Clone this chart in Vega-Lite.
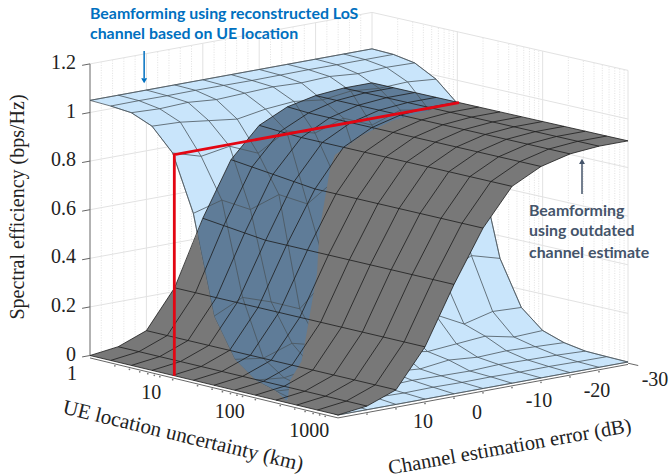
{"$schema":"https://vega.github.io/schema/vega-lite/v6.json","width":670,"height":476,"padding":0,"autosize":"none","background":"white","config":{"view":{"stroke":null}},
"data":{"values":[
{"s":"b","logUE":0,"err":20,"se":1.05},{"s":"b","logUE":0,"err":15,"se":1.05},{"s":"b","logUE":0,"err":10,"se":1.05},{"s":"b","logUE":0,"err":5,"se":1.05},{"s":"b","logUE":0,"err":0,"se":1.05},{"s":"b","logUE":0,"err":-5,"se":1.05},{"s":"b","logUE":0,"err":-10,"se":1.05},{"s":"b","logUE":0,"err":-15,"se":1.05},{"s":"b","logUE":0,"err":-20,"se":1.05},{"s":"b","logUE":0,"err":-25,"se":1.05},{"s":"b","logUE":0,"err":-30,"se":1.05},
{"s":"b","logUE":0.25,"err":20,"se":1.047},{"s":"b","logUE":0.25,"err":15,"se":1.048},{"s":"b","logUE":0.25,"err":10,"se":1.047},{"s":"b","logUE":0.25,"err":5,"se":1.048},{"s":"b","logUE":0.25,"err":0,"se":1.047},{"s":"b","logUE":0.25,"err":-5,"se":1.046},{"s":"b","logUE":0.25,"err":-10,"se":1.047},{"s":"b","logUE":0.25,"err":-15,"se":1.048},{"s":"b","logUE":0.25,"err":-20,"se":1.047},{"s":"b","logUE":0.25,"err":-25,"se":1.047},{"s":"b","logUE":0.25,"err":-30,"se":1.047},
{"s":"b","logUE":0.5,"err":20,"se":1.04},{"s":"b","logUE":0.5,"err":15,"se":1.035},{"s":"b","logUE":0.5,"err":10,"se":1.04},{"s":"b","logUE":0.5,"err":5,"se":1.03},{"s":"b","logUE":0.5,"err":0,"se":1.035},{"s":"b","logUE":0.5,"err":-5,"se":1.04},{"s":"b","logUE":0.5,"err":-10,"se":1.035},{"s":"b","logUE":0.5,"err":-15,"se":1.04},{"s":"b","logUE":0.5,"err":-20,"se":1.03},{"s":"b","logUE":0.5,"err":-25,"se":1.035},{"s":"b","logUE":0.5,"err":-30,"se":1.032},
{"s":"b","logUE":0.75,"err":20,"se":1.005},{"s":"b","logUE":0.75,"err":15,"se":1.0},{"s":"b","logUE":0.75,"err":10,"se":0.985},{"s":"b","logUE":0.75,"err":5,"se":0.97},{"s":"b","logUE":0.75,"err":0,"se":0.99},{"s":"b","logUE":0.75,"err":-5,"se":1.0},{"s":"b","logUE":0.75,"err":-10,"se":0.985},{"s":"b","logUE":0.75,"err":-15,"se":1.0},{"s":"b","logUE":0.75,"err":-20,"se":0.99},{"s":"b","logUE":0.75,"err":-25,"se":0.995},{"s":"b","logUE":0.75,"err":-30,"se":0.985},
{"s":"b","logUE":1,"err":20,"se":0.915},{"s":"b","logUE":1,"err":15,"se":0.88},{"s":"b","logUE":1,"err":10,"se":0.9},{"s":"b","logUE":1,"err":5,"se":0.85},{"s":"b","logUE":1,"err":0,"se":0.92},{"s":"b","logUE":1,"err":-5,"se":0.89},{"s":"b","logUE":1,"err":-10,"se":0.93},{"s":"b","logUE":1,"err":-15,"se":0.88},{"s":"b","logUE":1,"err":-20,"se":0.92},{"s":"b","logUE":1,"err":-25,"se":0.9},{"s":"b","logUE":1,"err":-30,"se":0.905},
{"s":"b","logUE":1.25,"err":20,"se":0.687},{"s":"b","logUE":1.25,"err":15,"se":0.72},{"s":"b","logUE":1.25,"err":10,"se":0.66},{"s":"b","logUE":1.25,"err":5,"se":0.7},{"s":"b","logUE":1.25,"err":0,"se":0.64},{"s":"b","logUE":1.25,"err":-5,"se":0.72},{"s":"b","logUE":1.25,"err":-10,"se":0.68},{"s":"b","logUE":1.25,"err":-15,"se":0.66},{"s":"b","logUE":1.25,"err":-20,"se":0.71},{"s":"b","logUE":1.25,"err":-25,"se":0.65},{"s":"b","logUE":1.25,"err":-30,"se":0.68},
{"s":"b","logUE":1.5,"err":20,"se":0.284},{"s":"b","logUE":1.5,"err":15,"se":0.34},{"s":"b","logUE":1.5,"err":10,"se":0.3},{"s":"b","logUE":1.5,"err":5,"se":0.25},{"s":"b","logUE":1.5,"err":0,"se":0.36},{"s":"b","logUE":1.5,"err":-5,"se":0.31},{"s":"b","logUE":1.5,"err":-10,"se":0.27},{"s":"b","logUE":1.5,"err":-15,"se":0.33},{"s":"b","logUE":1.5,"err":-20,"se":0.28},{"s":"b","logUE":1.5,"err":-25,"se":0.34},{"s":"b","logUE":1.5,"err":-30,"se":0.307},
{"s":"b","logUE":1.75,"err":20,"se":0.127},{"s":"b","logUE":1.75,"err":15,"se":0.11},{"s":"b","logUE":1.75,"err":10,"se":0.15},{"s":"b","logUE":1.75,"err":5,"se":0.12},{"s":"b","logUE":1.75,"err":0,"se":0.09},{"s":"b","logUE":1.75,"err":-5,"se":0.14},{"s":"b","logUE":1.75,"err":-10,"se":0.11},{"s":"b","logUE":1.75,"err":-15,"se":0.16},{"s":"b","logUE":1.75,"err":-20,"se":0.1},{"s":"b","logUE":1.75,"err":-25,"se":0.13},{"s":"b","logUE":1.75,"err":-30,"se":0.125},
{"s":"b","logUE":2,"err":20,"se":0.062},{"s":"b","logUE":2,"err":15,"se":0.05},{"s":"b","logUE":2,"err":10,"se":0.07},{"s":"b","logUE":2,"err":5,"se":0.055},{"s":"b","logUE":2,"err":0,"se":0.045},{"s":"b","logUE":2,"err":-5,"se":0.07},{"s":"b","logUE":2,"err":-10,"se":0.05},{"s":"b","logUE":2,"err":-15,"se":0.06},{"s":"b","logUE":2,"err":-20,"se":0.07},{"s":"b","logUE":2,"err":-25,"se":0.045},{"s":"b","logUE":2,"err":-30,"se":0.05},
{"s":"b","logUE":2.25,"err":20,"se":0.037},{"s":"b","logUE":2.25,"err":15,"se":0.03},{"s":"b","logUE":2.25,"err":10,"se":0.025},{"s":"b","logUE":2.25,"err":5,"se":0.035},{"s":"b","logUE":2.25,"err":0,"se":0.03},{"s":"b","logUE":2.25,"err":-5,"se":0.02},{"s":"b","logUE":2.25,"err":-10,"se":0.035},{"s":"b","logUE":2.25,"err":-15,"se":0.025},{"s":"b","logUE":2.25,"err":-20,"se":0.03},{"s":"b","logUE":2.25,"err":-25,"se":0.025},{"s":"b","logUE":2.25,"err":-30,"se":0.02},
{"s":"b","logUE":2.5,"err":20,"se":0.016},{"s":"b","logUE":2.5,"err":15,"se":0.012},{"s":"b","logUE":2.5,"err":10,"se":0.018},{"s":"b","logUE":2.5,"err":5,"se":0.01},{"s":"b","logUE":2.5,"err":0,"se":0.015},{"s":"b","logUE":2.5,"err":-5,"se":0.012},{"s":"b","logUE":2.5,"err":-10,"se":0.01},{"s":"b","logUE":2.5,"err":-15,"se":0.015},{"s":"b","logUE":2.5,"err":-20,"se":0.012},{"s":"b","logUE":2.5,"err":-25,"se":0.01},{"s":"b","logUE":2.5,"err":-30,"se":0.005},
{"s":"b","logUE":2.75,"err":20,"se":0.012},{"s":"b","logUE":2.75,"err":15,"se":0.006},{"s":"b","logUE":2.75,"err":10,"se":0.008},{"s":"b","logUE":2.75,"err":5,"se":0.005},{"s":"b","logUE":2.75,"err":0,"se":0.007},{"s":"b","logUE":2.75,"err":-5,"se":0.005},{"s":"b","logUE":2.75,"err":-10,"se":0.006},{"s":"b","logUE":2.75,"err":-15,"se":0.004},{"s":"b","logUE":2.75,"err":-20,"se":0.005},{"s":"b","logUE":2.75,"err":-25,"se":0.003},{"s":"b","logUE":2.75,"err":-30,"se":0.002},
{"s":"b","logUE":3,"err":20,"se":0},{"s":"b","logUE":3,"err":15,"se":0},{"s":"b","logUE":3,"err":10,"se":0},{"s":"b","logUE":3,"err":5,"se":0},{"s":"b","logUE":3,"err":0,"se":0},{"s":"b","logUE":3,"err":-5,"se":0},{"s":"b","logUE":3,"err":-10,"se":0},{"s":"b","logUE":3,"err":-15,"se":0},{"s":"b","logUE":3,"err":-20,"se":0},{"s":"b","logUE":3,"err":-25,"se":0},{"s":"b","logUE":3,"err":-30,"se":0},

{"s":"g","logUE":0,"err":20,"se":0},{"s":"g","logUE":0,"err":15,"se":0.015},{"s":"g","logUE":0,"err":10,"se":0.06},{"s":"g","logUE":0,"err":5,"se":0.215},{"s":"g","logUE":0,"err":0,"se":0.48},{"s":"g","logUE":0,"err":-5,"se":0.7},{"s":"g","logUE":0,"err":-10,"se":0.82},{"s":"g","logUE":0,"err":-15,"se":0.875},{"s":"g","logUE":0,"err":-20,"se":0.9},{"s":"g","logUE":0,"err":-25,"se":0.91},{"s":"g","logUE":0,"err":-30,"se":0.91},
{"s":"g","logUE":0.25,"err":20,"se":0},{"s":"g","logUE":0.25,"err":15,"se":0.015},{"s":"g","logUE":0.25,"err":10,"se":0.06},{"s":"g","logUE":0.25,"err":5,"se":0.215},{"s":"g","logUE":0.25,"err":0,"se":0.47},{"s":"g","logUE":0.25,"err":-5,"se":0.69},{"s":"g","logUE":0.25,"err":-10,"se":0.815},{"s":"g","logUE":0.25,"err":-15,"se":0.87},{"s":"g","logUE":0.25,"err":-20,"se":0.9},{"s":"g","logUE":0.25,"err":-25,"se":0.91},{"s":"g","logUE":0.25,"err":-30,"se":0.91},
{"s":"g","logUE":0.5,"err":20,"se":0},{"s":"g","logUE":0.5,"err":15,"se":0.015},{"s":"g","logUE":0.5,"err":10,"se":0.06},{"s":"g","logUE":0.5,"err":5,"se":0.215},{"s":"g","logUE":0.5,"err":0,"se":0.46},{"s":"g","logUE":0.5,"err":-5,"se":0.68},{"s":"g","logUE":0.5,"err":-10,"se":0.81},{"s":"g","logUE":0.5,"err":-15,"se":0.87},{"s":"g","logUE":0.5,"err":-20,"se":0.9},{"s":"g","logUE":0.5,"err":-25,"se":0.91},{"s":"g","logUE":0.5,"err":-30,"se":0.91},
{"s":"g","logUE":0.75,"err":20,"se":0},{"s":"g","logUE":0.75,"err":15,"se":0.015},{"s":"g","logUE":0.75,"err":10,"se":0.06},{"s":"g","logUE":0.75,"err":5,"se":0.215},{"s":"g","logUE":0.75,"err":0,"se":0.45},{"s":"g","logUE":0.75,"err":-5,"se":0.67},{"s":"g","logUE":0.75,"err":-10,"se":0.81},{"s":"g","logUE":0.75,"err":-15,"se":0.87},{"s":"g","logUE":0.75,"err":-20,"se":0.9},{"s":"g","logUE":0.75,"err":-25,"se":0.91},{"s":"g","logUE":0.75,"err":-30,"se":0.91},
{"s":"g","logUE":1,"err":20,"se":0},{"s":"g","logUE":1,"err":15,"se":0.015},{"s":"g","logUE":1,"err":10,"se":0.06},{"s":"g","logUE":1,"err":5,"se":0.215},{"s":"g","logUE":1,"err":0,"se":0.45},{"s":"g","logUE":1,"err":-5,"se":0.66},{"s":"g","logUE":1,"err":-10,"se":0.81},{"s":"g","logUE":1,"err":-15,"se":0.87},{"s":"g","logUE":1,"err":-20,"se":0.9},{"s":"g","logUE":1,"err":-25,"se":0.91},{"s":"g","logUE":1,"err":-30,"se":0.91},
{"s":"g","logUE":1.25,"err":20,"se":0},{"s":"g","logUE":1.25,"err":15,"se":0.015},{"s":"g","logUE":1.25,"err":10,"se":0.06},{"s":"g","logUE":1.25,"err":5,"se":0.215},{"s":"g","logUE":1.25,"err":0,"se":0.45},{"s":"g","logUE":1.25,"err":-5,"se":0.66},{"s":"g","logUE":1.25,"err":-10,"se":0.81},{"s":"g","logUE":1.25,"err":-15,"se":0.87},{"s":"g","logUE":1.25,"err":-20,"se":0.9},{"s":"g","logUE":1.25,"err":-25,"se":0.91},{"s":"g","logUE":1.25,"err":-30,"se":0.91},
{"s":"g","logUE":1.5,"err":20,"se":0},{"s":"g","logUE":1.5,"err":15,"se":0.015},{"s":"g","logUE":1.5,"err":10,"se":0.06},{"s":"g","logUE":1.5,"err":5,"se":0.215},{"s":"g","logUE":1.5,"err":0,"se":0.45},{"s":"g","logUE":1.5,"err":-5,"se":0.66},{"s":"g","logUE":1.5,"err":-10,"se":0.81},{"s":"g","logUE":1.5,"err":-15,"se":0.87},{"s":"g","logUE":1.5,"err":-20,"se":0.9},{"s":"g","logUE":1.5,"err":-25,"se":0.91},{"s":"g","logUE":1.5,"err":-30,"se":0.91},
{"s":"g","logUE":1.75,"err":20,"se":0},{"s":"g","logUE":1.75,"err":15,"se":0.015},{"s":"g","logUE":1.75,"err":10,"se":0.06},{"s":"g","logUE":1.75,"err":5,"se":0.215},{"s":"g","logUE":1.75,"err":0,"se":0.45},{"s":"g","logUE":1.75,"err":-5,"se":0.66},{"s":"g","logUE":1.75,"err":-10,"se":0.81},{"s":"g","logUE":1.75,"err":-15,"se":0.87},{"s":"g","logUE":1.75,"err":-20,"se":0.9},{"s":"g","logUE":1.75,"err":-25,"se":0.91},{"s":"g","logUE":1.75,"err":-30,"se":0.91},
{"s":"g","logUE":2,"err":20,"se":0},{"s":"g","logUE":2,"err":15,"se":0.015},{"s":"g","logUE":2,"err":10,"se":0.06},{"s":"g","logUE":2,"err":5,"se":0.215},{"s":"g","logUE":2,"err":0,"se":0.45},{"s":"g","logUE":2,"err":-5,"se":0.66},{"s":"g","logUE":2,"err":-10,"se":0.81},{"s":"g","logUE":2,"err":-15,"se":0.87},{"s":"g","logUE":2,"err":-20,"se":0.9},{"s":"g","logUE":2,"err":-25,"se":0.91},{"s":"g","logUE":2,"err":-30,"se":0.91},
{"s":"g","logUE":2.25,"err":20,"se":0},{"s":"g","logUE":2.25,"err":15,"se":0.015},{"s":"g","logUE":2.25,"err":10,"se":0.06},{"s":"g","logUE":2.25,"err":5,"se":0.215},{"s":"g","logUE":2.25,"err":0,"se":0.45},{"s":"g","logUE":2.25,"err":-5,"se":0.66},{"s":"g","logUE":2.25,"err":-10,"se":0.81},{"s":"g","logUE":2.25,"err":-15,"se":0.87},{"s":"g","logUE":2.25,"err":-20,"se":0.9},{"s":"g","logUE":2.25,"err":-25,"se":0.91},{"s":"g","logUE":2.25,"err":-30,"se":0.91},
{"s":"g","logUE":2.5,"err":20,"se":0},{"s":"g","logUE":2.5,"err":15,"se":0.015},{"s":"g","logUE":2.5,"err":10,"se":0.06},{"s":"g","logUE":2.5,"err":5,"se":0.215},{"s":"g","logUE":2.5,"err":0,"se":0.45},{"s":"g","logUE":2.5,"err":-5,"se":0.66},{"s":"g","logUE":2.5,"err":-10,"se":0.81},{"s":"g","logUE":2.5,"err":-15,"se":0.87},{"s":"g","logUE":2.5,"err":-20,"se":0.9},{"s":"g","logUE":2.5,"err":-25,"se":0.91},{"s":"g","logUE":2.5,"err":-30,"se":0.91},
{"s":"g","logUE":2.75,"err":20,"se":0},{"s":"g","logUE":2.75,"err":15,"se":0.015},{"s":"g","logUE":2.75,"err":10,"se":0.06},{"s":"g","logUE":2.75,"err":5,"se":0.215},{"s":"g","logUE":2.75,"err":0,"se":0.45},{"s":"g","logUE":2.75,"err":-5,"se":0.66},{"s":"g","logUE":2.75,"err":-10,"se":0.81},{"s":"g","logUE":2.75,"err":-15,"se":0.87},{"s":"g","logUE":2.75,"err":-20,"se":0.9},{"s":"g","logUE":2.75,"err":-25,"se":0.91},{"s":"g","logUE":2.75,"err":-30,"se":0.91},
{"s":"g","logUE":3,"err":20,"se":0},{"s":"g","logUE":3,"err":15,"se":0.015},{"s":"g","logUE":3,"err":10,"se":0.06},{"s":"g","logUE":3,"err":5,"se":0.215},{"s":"g","logUE":3,"err":0,"se":0.45},{"s":"g","logUE":3,"err":-5,"se":0.66},{"s":"g","logUE":3,"err":-10,"se":0.81},{"s":"g","logUE":3,"err":-15,"se":0.87},{"s":"g","logUE":3,"err":-20,"se":0.9},{"s":"g","logUE":3,"err":-25,"se":0.91},{"s":"g","logUE":3,"err":-30,"se":0.91},

{"s":"bo","o":1,"logUE":0,"err":20,"se":1.05},{"s":"bo","o":2,"logUE":0,"err":-30,"se":1.05},{"s":"bo","o":3,"logUE":0.25,"err":-30,"se":1.047},{"s":"bo","o":4,"logUE":0.5,"err":-30,"se":1.032},{"s":"bo","o":5,"logUE":0.75,"err":-30,"se":0.985},{"s":"bo","o":6,"logUE":1,"err":-30,"se":0.905},{"s":"bo","o":7,"logUE":1.25,"err":-30,"se":0.68},{"s":"bo","o":8,"logUE":1.5,"err":-30,"se":0.307},{"s":"bo","o":9,"logUE":1.75,"err":-30,"se":0.125},{"s":"bo","o":10,"logUE":2,"err":-30,"se":0.05},{"s":"bo","o":11,"logUE":2.25,"err":-30,"se":0.02},{"s":"bo","o":12,"logUE":2.5,"err":-30,"se":0.005},{"s":"bo","o":13,"logUE":3,"err":-30,"se":0},{"s":"bo","o":14,"logUE":3,"err":20,"se":0},{"s":"bo","o":15,"logUE":2.75,"err":20,"se":0.012},{"s":"bo","o":16,"logUE":2.5,"err":20,"se":0.016},{"s":"bo","o":17,"logUE":2.25,"err":20,"se":0.037},{"s":"bo","o":18,"logUE":2,"err":20,"se":0.062},{"s":"bo","o":19,"logUE":1.75,"err":20,"se":0.127},{"s":"bo","o":20,"logUE":1.5,"err":20,"se":0.284},{"s":"bo","o":21,"logUE":1.25,"err":20,"se":0.687},{"s":"bo","o":22,"logUE":1,"err":20,"se":0.915},{"s":"bo","o":23,"logUE":0.75,"err":20,"se":1.005},{"s":"bo","o":24,"logUE":0.5,"err":20,"se":1.04},{"s":"bo","o":25,"logUE":0.25,"err":20,"se":1.047},

{"s":"do","o":1,"logUE":1.305,"err":20,"se":0.594},{"s":"do","o":2,"logUE":0,"err":0.85,"se":0.43},{"s":"do","o":3,"logUE":0,"err":0,"se":0.48},{"s":"do","o":4,"logUE":0,"err":-5,"se":0.7},{"s":"do","o":5,"logUE":0,"err":-10,"se":0.82},{"s":"do","o":6,"logUE":0,"err":-15,"se":0.875},{"s":"do","o":7,"logUE":0,"err":-20,"se":0.9},{"s":"do","o":8,"logUE":0,"err":-25,"se":0.91},{"s":"do","o":9,"logUE":0,"err":-30,"se":0.91},{"s":"do","o":10,"logUE":1.008,"err":-30,"se":0.91},{"s":"do","o":11,"logUE":2.37,"err":20,"se":0},{"s":"do","o":12,"logUE":2.25,"err":20,"se":0.037},{"s":"do","o":13,"logUE":2,"err":20,"se":0.062},{"s":"do","o":14,"logUE":1.75,"err":20,"se":0.127},{"s":"do","o":15,"logUE":1.5,"err":20,"se":0.284},

{"s":"gl","o":1,"logUE":0,"err":20,"se":0},{"s":"gl","o":2,"logUE":2.418,"err":20,"se":0},{"s":"gl","o":3,"logUE":2.25,"err":20,"se":0.037},{"s":"gl","o":4,"logUE":2,"err":20,"se":0.062},{"s":"gl","o":5,"logUE":1.75,"err":20,"se":0.127},{"s":"gl","o":6,"logUE":1.5,"err":20,"se":0.284},{"s":"gl","o":7,"logUE":1.305,"err":20,"se":0.594},{"s":"gl","o":8,"logUE":0,"err":0.85,"se":0.43},{"s":"gl","o":9,"logUE":0,"err":5,"se":0.215},{"s":"gl","o":10,"logUE":0,"err":10,"se":0.06},{"s":"gl","o":11,"logUE":0,"err":15,"se":0.015},

{"s":"gr","o":1,"logUE":2.37,"err":20,"se":0},{"s":"gr","o":2,"logUE":3,"err":20,"se":0},{"s":"gr","o":3,"logUE":3,"err":15,"se":0.015},{"s":"gr","o":4,"logUE":3,"err":10,"se":0.06},{"s":"gr","o":5,"logUE":3,"err":5,"se":0.215},{"s":"gr","o":6,"logUE":3,"err":0,"se":0.45},{"s":"gr","o":7,"logUE":3,"err":-5,"se":0.66},{"s":"gr","o":8,"logUE":3,"err":-10,"se":0.81},{"s":"gr","o":9,"logUE":3,"err":-15,"se":0.87},{"s":"gr","o":10,"logUE":3,"err":-20,"se":0.9},{"s":"gr","o":11,"logUE":3,"err":-25,"se":0.91},{"s":"gr","o":12,"logUE":3,"err":-30,"se":0.91},{"s":"gr","o":13,"logUE":1.008,"err":-30,"se":0.91},{"s":"gr","o":14,"logUE":1.035,"err":-18,"se":0.888},{"s":"gr","o":15,"logUE":1.008,"err":-13,"se":0.846},{"s":"gr","o":16,"logUE":0.966,"err":-9,"se":0.78},{"s":"gr","o":17,"logUE":1.011,"err":-7.5,"se":0.735},{"s":"gr","o":18,"logUE":1.263,"err":-2,"se":0.534},{"s":"gr","o":19,"logUE":1.377,"err":0,"se":0.45},{"s":"gr","o":20,"logUE":1.467,"err":1.5,"se":0.38},{"s":"gr","o":21,"logUE":1.671,"err":6.25,"se":0.176},{"s":"gr","o":22,"logUE":1.83,"err":9.5,"se":0.08},{"s":"gr","o":23,"logUE":1.968,"err":13.5,"se":0.03},{"s":"gr","o":24,"logUE":2.289,"err":18.5,"se":0.005},

{"s":"r","o":1,"logUE":1.02,"err":20,"se":0},{"s":"r","o":2,"logUE":1.02,"err":20,"se":0.91},{"s":"r","o":3,"logUE":1.02,"err":-30,"se":0.91},

{"s":"w","id":"z2","o":1,"logUE":0,"err":20,"se":0.2},{"s":"w","id":"z2","o":2,"logUE":0,"err":-30,"se":0.2},{"s":"w","id":"z2","o":3,"logUE":3,"err":-30,"se":0.2},
{"s":"w","id":"z4","o":1,"logUE":0,"err":20,"se":0.4},{"s":"w","id":"z4","o":2,"logUE":0,"err":-30,"se":0.4},{"s":"w","id":"z4","o":3,"logUE":3,"err":-30,"se":0.4},
{"s":"w","id":"z6","o":1,"logUE":0,"err":20,"se":0.6},{"s":"w","id":"z6","o":2,"logUE":0,"err":-30,"se":0.6},{"s":"w","id":"z6","o":3,"logUE":3,"err":-30,"se":0.6},
{"s":"w","id":"z8","o":1,"logUE":0,"err":20,"se":0.8},{"s":"w","id":"z8","o":2,"logUE":0,"err":-30,"se":0.8},{"s":"w","id":"z8","o":3,"logUE":3,"err":-30,"se":0.8},
{"s":"w","id":"z10","o":1,"logUE":0,"err":20,"se":1},{"s":"w","id":"z10","o":2,"logUE":0,"err":-30,"se":1},{"s":"w","id":"z10","o":3,"logUE":3,"err":-30,"se":1},
{"s":"w","id":"z12","o":1,"logUE":0,"err":20,"se":1.2},{"s":"w","id":"z12","o":2,"logUE":0,"err":-30,"se":1.2},{"s":"w","id":"z12","o":3,"logUE":3,"err":-30,"se":1.2},
{"s":"w","id":"e10","o":1,"logUE":0,"err":10,"se":0},{"s":"w","id":"e10","o":2,"logUE":0,"err":10,"se":1.2},
{"s":"w","id":"e0","o":1,"logUE":0,"err":0,"se":0},{"s":"w","id":"e0","o":2,"logUE":0,"err":0,"se":1.2},
{"s":"w","id":"em10","o":1,"logUE":0,"err":-10,"se":0},{"s":"w","id":"em10","o":2,"logUE":0,"err":-10,"se":1.2},
{"s":"w","id":"em20","o":1,"logUE":0,"err":-20,"se":0},{"s":"w","id":"em20","o":2,"logUE":0,"err":-20,"se":1.2},
{"s":"w","id":"em30","o":1,"logUE":0,"err":-30,"se":0},{"s":"w","id":"em30","o":2,"logUE":0,"err":-30,"se":1.2},
{"s":"w","id":"u1","o":1,"logUE":1,"err":-30,"se":0},{"s":"w","id":"u1","o":2,"logUE":1,"err":-30,"se":1.2},
{"s":"w","id":"u2","o":1,"logUE":2,"err":-30,"se":0},{"s":"w","id":"u2","o":2,"logUE":2,"err":-30,"se":1.2},
{"s":"w","id":"u3","o":1,"logUE":3,"err":-30,"se":0},{"s":"w","id":"u3","o":2,"logUE":3,"err":-30,"se":1.2},

{"s":"m","logUE":0.301,"err":-30,"se":0},{"s":"m","logUE":0.301,"err":-30,"se":1.2},{"s":"m","logUE":0.477,"err":-30,"se":0},{"s":"m","logUE":0.477,"err":-30,"se":1.2},{"s":"m","logUE":0.602,"err":-30,"se":0},{"s":"m","logUE":0.602,"err":-30,"se":1.2},{"s":"m","logUE":0.699,"err":-30,"se":0},{"s":"m","logUE":0.699,"err":-30,"se":1.2},{"s":"m","logUE":0.778,"err":-30,"se":0},{"s":"m","logUE":0.778,"err":-30,"se":1.2},{"s":"m","logUE":0.845,"err":-30,"se":0},{"s":"m","logUE":0.845,"err":-30,"se":1.2},{"s":"m","logUE":0.903,"err":-30,"se":0},{"s":"m","logUE":0.903,"err":-30,"se":1.2},{"s":"m","logUE":0.954,"err":-30,"se":0},{"s":"m","logUE":0.954,"err":-30,"se":1.2},
{"s":"m","logUE":1.301,"err":-30,"se":0},{"s":"m","logUE":1.301,"err":-30,"se":1.2},{"s":"m","logUE":1.477,"err":-30,"se":0},{"s":"m","logUE":1.477,"err":-30,"se":1.2},{"s":"m","logUE":1.602,"err":-30,"se":0},{"s":"m","logUE":1.602,"err":-30,"se":1.2},{"s":"m","logUE":1.699,"err":-30,"se":0},{"s":"m","logUE":1.699,"err":-30,"se":1.2},{"s":"m","logUE":1.778,"err":-30,"se":0},{"s":"m","logUE":1.778,"err":-30,"se":1.2},{"s":"m","logUE":1.845,"err":-30,"se":0},{"s":"m","logUE":1.845,"err":-30,"se":1.2},{"s":"m","logUE":1.903,"err":-30,"se":0},{"s":"m","logUE":1.903,"err":-30,"se":1.2},{"s":"m","logUE":1.954,"err":-30,"se":0},{"s":"m","logUE":1.954,"err":-30,"se":1.2},
{"s":"m","logUE":2.301,"err":-30,"se":0},{"s":"m","logUE":2.301,"err":-30,"se":1.2},{"s":"m","logUE":2.477,"err":-30,"se":0},{"s":"m","logUE":2.477,"err":-30,"se":1.2},{"s":"m","logUE":2.602,"err":-30,"se":0},{"s":"m","logUE":2.602,"err":-30,"se":1.2},{"s":"m","logUE":2.699,"err":-30,"se":0},{"s":"m","logUE":2.699,"err":-30,"se":1.2},{"s":"m","logUE":2.778,"err":-30,"se":0},{"s":"m","logUE":2.778,"err":-30,"se":1.2},{"s":"m","logUE":2.845,"err":-30,"se":0},{"s":"m","logUE":2.845,"err":-30,"se":1.2},{"s":"m","logUE":2.903,"err":-30,"se":0},{"s":"m","logUE":2.903,"err":-30,"se":1.2},{"s":"m","logUE":2.954,"err":-30,"se":0},{"s":"m","logUE":2.954,"err":-30,"se":1.2},

{"s":"n","logUE":0,"err":18,"se":0},{"s":"n","logUE":0,"err":18,"se":1.2},{"s":"n","logUE":0,"err":16,"se":0},{"s":"n","logUE":0,"err":16,"se":1.2},{"s":"n","logUE":0,"err":14,"se":0},{"s":"n","logUE":0,"err":14,"se":1.2},{"s":"n","logUE":0,"err":12,"se":0},{"s":"n","logUE":0,"err":12,"se":1.2},
{"s":"n","logUE":0,"err":8,"se":0},{"s":"n","logUE":0,"err":8,"se":1.2},{"s":"n","logUE":0,"err":6,"se":0},{"s":"n","logUE":0,"err":6,"se":1.2},{"s":"n","logUE":0,"err":4,"se":0},{"s":"n","logUE":0,"err":4,"se":1.2},{"s":"n","logUE":0,"err":2,"se":0},{"s":"n","logUE":0,"err":2,"se":1.2},
{"s":"n","logUE":0,"err":-2,"se":0},{"s":"n","logUE":0,"err":-2,"se":1.2},{"s":"n","logUE":0,"err":-4,"se":0},{"s":"n","logUE":0,"err":-4,"se":1.2},{"s":"n","logUE":0,"err":-6,"se":0},{"s":"n","logUE":0,"err":-6,"se":1.2},{"s":"n","logUE":0,"err":-8,"se":0},{"s":"n","logUE":0,"err":-8,"se":1.2},
{"s":"n","logUE":0,"err":-12,"se":0},{"s":"n","logUE":0,"err":-12,"se":1.2},{"s":"n","logUE":0,"err":-14,"se":0},{"s":"n","logUE":0,"err":-14,"se":1.2},{"s":"n","logUE":0,"err":-16,"se":0},{"s":"n","logUE":0,"err":-16,"se":1.2},{"s":"n","logUE":0,"err":-18,"se":0},{"s":"n","logUE":0,"err":-18,"se":1.2},
{"s":"n","logUE":0,"err":-22,"se":0},{"s":"n","logUE":0,"err":-22,"se":1.2},{"s":"n","logUE":0,"err":-24,"se":0},{"s":"n","logUE":0,"err":-24,"se":1.2},{"s":"n","logUE":0,"err":-26,"se":0},{"s":"n","logUE":0,"err":-26,"se":1.2},{"s":"n","logUE":0,"err":-28,"se":0},{"s":"n","logUE":0,"err":-28,"se":1.2},

{"s":"ax","id":"za","o":1,"logUE":0,"err":20,"se":0},{"s":"ax","id":"za","o":2,"logUE":0,"err":20,"se":1.2},
{"s":"ax","id":"fl","o":1,"logUE":0,"err":20,"se":-0.01},{"s":"ax","id":"fl","o":2,"logUE":3,"err":20,"se":-0.012},{"s":"ax","id":"fl","o":3,"logUE":3,"err":-30,"se":-0.01},
{"s":"ax","id":"t0","o":1,"logUE":0,"err":20,"se":0},{"s":"ax","id":"t0","o":2,"logUE":0,"err":21.4,"se":0},
{"s":"ax","id":"t2","o":1,"logUE":0,"err":20,"se":0.2},{"s":"ax","id":"t2","o":2,"logUE":0,"err":21.4,"se":0.2},
{"s":"ax","id":"t4","o":1,"logUE":0,"err":20,"se":0.4},{"s":"ax","id":"t4","o":2,"logUE":0,"err":21.4,"se":0.4},
{"s":"ax","id":"t6","o":1,"logUE":0,"err":20,"se":0.6},{"s":"ax","id":"t6","o":2,"logUE":0,"err":21.4,"se":0.6},
{"s":"ax","id":"t8","o":1,"logUE":0,"err":20,"se":0.8},{"s":"ax","id":"t8","o":2,"logUE":0,"err":21.4,"se":0.8},
{"s":"ax","id":"t10","o":1,"logUE":0,"err":20,"se":1},{"s":"ax","id":"t10","o":2,"logUE":0,"err":21.4,"se":1},
{"s":"ax","id":"t12","o":1,"logUE":0,"err":20,"se":1.2},{"s":"ax","id":"t12","o":2,"logUE":0,"err":21.4,"se":1.2},
{"s":"ax","id":"t30","o":1,"logUE":3,"err":-30,"se":-0.005},{"s":"ax","id":"t30","o":2,"logUE":3.12,"err":-30,"se":-0.005},

{"s":"t","logUE":0.301,"err":20,"se":-0.018},{"s":"t","logUE":0.477,"err":20,"se":-0.018},{"s":"t","logUE":0.602,"err":20,"se":-0.018},{"s":"t","logUE":0.699,"err":20,"se":-0.018},{"s":"t","logUE":0.778,"err":20,"se":-0.018},{"s":"t","logUE":0.845,"err":20,"se":-0.018},{"s":"t","logUE":1,"err":20,"se":-0.018},{"s":"t","logUE":1.301,"err":20,"se":-0.018},{"s":"t","logUE":1.477,"err":20,"se":-0.018},{"s":"t","logUE":1.602,"err":20,"se":-0.018},{"s":"t","logUE":1.699,"err":20,"se":-0.018},{"s":"t","logUE":1.778,"err":20,"se":-0.018},{"s":"t","logUE":1.845,"err":20,"se":-0.018},{"s":"t","logUE":2,"err":20,"se":-0.018},{"s":"t","logUE":2.301,"err":20,"se":-0.018},{"s":"t","logUE":2.477,"err":20,"se":-0.018},{"s":"t","logUE":2.602,"err":20,"se":-0.018},{"s":"t","logUE":2.699,"err":20,"se":-0.018},{"s":"t","logUE":2.778,"err":20,"se":-0.018},{"s":"t","logUE":2.845,"err":20,"se":-0.018},
{"s":"t","logUE":3,"err":15,"se":-0.018},{"s":"t","logUE":3,"err":10,"se":-0.018},{"s":"t","logUE":3,"err":5,"se":-0.018},{"s":"t","logUE":3,"err":0,"se":-0.018},{"s":"t","logUE":3,"err":-5,"se":-0.018},{"s":"t","logUE":3,"err":-10,"se":-0.018},{"s":"t","logUE":3,"err":-15,"se":-0.018},{"s":"t","logUE":3,"err":-20,"se":-0.018},{"s":"t","logUE":3,"err":-25,"se":-0.018},

{"s":"ab","o":1,"logUE":0,"err":10.4,"se":1.212},{"s":"ab","o":2,"logUE":0,"err":10.4,"se":1.1},
{"s":"as","o":1,"logUE":3,"err":-22.07,"se":0.726},{"s":"as","o":2,"logUE":3,"err":-22.07,"se":0.85},
{"s":"hb","logUE":0,"err":10.4,"se":1.09},{"s":"hs","logUE":3,"err":-22.07,"se":0.86},

{"s":"zl","t":"1.2","logUE":0,"err":20,"se":1.2},{"s":"zl","t":"1","logUE":0,"err":20,"se":1},{"s":"zl","t":"0.8","logUE":0,"err":20,"se":0.8},{"s":"zl","t":"0.6","logUE":0,"err":20,"se":0.6},{"s":"zl","t":"0.4","logUE":0,"err":20,"se":0.4},{"s":"zl","t":"0.2","logUE":0,"err":20,"se":0.2},{"s":"zl","t":"0","logUE":0,"err":20,"se":0},
{"s":"ul","t":"1","logUE":0.06,"err":20,"se":0},{"s":"ul","t":"10","logUE":1.02,"err":20,"se":0},{"s":"ul","t":"100","logUE":1.97,"err":20,"se":0},{"s":"ul","t":"1000","logUE":2.93,"err":20,"se":0},
{"s":"el","t":"10","logUE":3,"err":10,"se":0},{"s":"el","t":"0","logUE":3,"err":0.7,"se":0},{"s":"el","t":"-10","logUE":3,"err":-10,"se":0},{"s":"el","t":"-20","logUE":3,"err":-20,"se":0},{"s":"el","t":"-30","logUE":3,"err":-30,"se":0},
{"s":"tz","t":"Spectral efficiency (bps/Hz)","logUE":0,"err":20,"se":0.6},
{"s":"tu","t":"UE location uncertainty (km)","logUE":1.5,"err":20,"se":0},
{"s":"te","t":"Channel estimation error (dB)","logUE":3,"err":-5,"se":0},
{"s":"a1","t":"Beamforming using reconstructed LoS","logUE":0,"err":20,"se":1.2},
{"s":"a1","t":"channel based on UE location","logUE":0,"err":20,"se":1.118},
{"s":"a2","t":"Beamforming","logUE":3,"err":-30,"se":0.621},
{"s":"a2","t":"using outdated","logUE":3,"err":-30,"se":0.539},
{"s":"a2","t":"channel estimate","logUE":3,"err":-30,"se":0.449}
]},
"transform":[
{"calculate":"(20-datum.err)/5","as":"i"},
{"calculate":"datum.logUE/3","as":"u"},
{"calculate":"90+28.2*datum.i+datum.u*(248+0.8*datum.i)","as":"h"},
{"calculate":"355.5-5.15*datum.i+datum.u*(59.5-0.15*datum.i)-243*datum.se","as":"v"}
],
"encoding":{"x":{"field":"h","type":"quantitative","scale":{"domain":[0,670],"nice":false,"zero":false},"axis":null},"y":{"field":"v","type":"quantitative","scale":{"domain":[476,0],"nice":false,"zero":false},"axis":null}},
"layer":[
{"transform":[{"filter":"datum.s=='m'"}],"mark":{"type":"line","stroke":"#d4d4d4","strokeWidth":0.7,"strokeDash":[1,1.5]},"encoding":{"detail":{"field":"logUE"},"order":{"field":"se"}}},
{"transform":[{"filter":"datum.s=='n'"}],"mark":{"type":"line","stroke":"#d4d4d4","strokeWidth":0.7,"strokeDash":[1,1.5]},"encoding":{"detail":{"field":"err"},"order":{"field":"se"}}},
{"transform":[{"filter":"datum.s=='w'"}],"mark":{"type":"line","stroke":"#e2e2e2","strokeWidth":1},"encoding":{"detail":{"field":"id"},"order":{"field":"o"}}},
{"transform":[{"filter":"datum.s=='ax'"}],"mark":{"type":"line","stroke":"#666666","strokeWidth":1},"encoding":{"detail":{"field":"id"},"order":{"field":"o"}}},
{"transform":[{"filter":"datum.s=='t'"}],"mark":{"type":"point","shape":"circle","filled":true,"size":3,"color":"#777777","opacity":1}},
{"transform":[{"filter":"datum.s=='bo'"}],"mark":{"type":"line","fill":"#c9e5fb","stroke":"#6f7a82","strokeWidth":0.8},"encoding":{"order":{"field":"o"}}},
{"transform":[{"filter":"datum.s=='do'"}],"mark":{"type":"line","fill":"#5f7c98","stroke":"transparent","strokeWidth":0},"encoding":{"order":{"field":"o"}}},
{"transform":[{"filter":"datum.s=='b'"}],"mark":{"type":"line","stroke":"#4a555d","strokeWidth":0.8},"encoding":{"detail":{"field":"err"},"order":{"field":"logUE"}}},
{"transform":[{"filter":"datum.s=='b'"}],"mark":{"type":"line","stroke":"#4a555d","strokeWidth":0.8},"encoding":{"detail":{"field":"logUE"},"order":{"field":"err"}}},
{"transform":[{"filter":"datum.s=='gl'"}],"mark":{"type":"line","fill":"#787878","stroke":"transparent","strokeWidth":0},"encoding":{"order":{"field":"o"}}},
{"transform":[{"filter":"datum.s=='gr'"}],"mark":{"type":"line","fill":"#787878","stroke":"transparent","strokeWidth":0},"encoding":{"order":{"field":"o"}}},
{"transform":[{"filter":"datum.s=='g'"}],"mark":{"type":"line","stroke":"#1c1c1c","strokeWidth":0.8},"encoding":{"detail":{"field":"err"},"order":{"field":"logUE"}}},
{"transform":[{"filter":"datum.s=='g'"}],"mark":{"type":"line","stroke":"#1c1c1c","strokeWidth":0.8},"encoding":{"detail":{"field":"logUE"},"order":{"field":"err"}}},
{"transform":[{"filter":"datum.s=='r'"}],"mark":{"type":"line","stroke":"#e30613","strokeWidth":2.8},"encoding":{"order":{"field":"o"}}},
{"transform":[{"filter":"datum.s=='ab'"}],"mark":{"type":"line","stroke":"#0070c0","strokeWidth":1.5},"encoding":{"order":{"field":"o"}}},
{"transform":[{"filter":"datum.s=='as'"}],"mark":{"type":"line","stroke":"#44546a","strokeWidth":1.5},"encoding":{"order":{"field":"o"}}},
{"transform":[{"filter":"datum.s=='hb'"}],"mark":{"type":"point","shape":"triangle-down","filled":true,"size":35,"color":"#0070c0","opacity":1}},
{"transform":[{"filter":"datum.s=='hs'"}],"mark":{"type":"point","shape":"triangle-up","filled":true,"size":35,"color":"#44546a","opacity":1}},
{"transform":[{"filter":"datum.s=='zl'"}],"mark":{"type":"text","font":"Liberation Serif","fontSize":20,"color":"#222222","align":"right","baseline":"middle","dx":-14,"dy":-1},"encoding":{"text":{"field":"t"}}},
{"transform":[{"filter":"datum.s=='ul'"}],"mark":{"type":"text","font":"Liberation Serif","fontSize":20,"color":"#222222","align":"center","baseline":"middle","dx":-23,"dy":17.5},"encoding":{"text":{"field":"t"}}},
{"transform":[{"filter":"datum.s=='el'"}],"mark":{"type":"text","font":"Liberation Serif","fontSize":20,"color":"#222222","align":"center","baseline":"middle","dx":27,"dy":18},"encoding":{"text":{"field":"t"}}},
{"transform":[{"filter":"datum.s=='tz'"}],"mark":{"type":"text","font":"Liberation Serif","fontSize":20,"color":"#222222","align":"center","baseline":"middle","angle":270,"dx":2.7,"dy":-72},"encoding":{"text":{"field":"t"}}},
{"transform":[{"filter":"datum.s=='tu'"}],"mark":{"type":"text","font":"Liberation Serif","fontSize":21,"color":"#222222","align":"center","baseline":"middle","angle":13.5,"dx":-18.2,"dy":56.8},"encoding":{"text":{"field":"t"}}},
{"transform":[{"filter":"datum.s=='te'"}],"mark":{"type":"text","font":"Liberation Serif","fontSize":20.5,"color":"#222222","align":"center","baseline":"middle","angle":350,"dx":16.2,"dy":62.5},"encoding":{"text":{"field":"t"}}},
{"transform":[{"filter":"datum.s=='a1'"}],"mark":{"type":"text","font":"Lato","fontWeight":"bold","fontSize":15.9,"color":"#0070c0","align":"left","baseline":"middle","dy":-50},"encoding":{"text":{"field":"t"}}},
{"transform":[{"filter":"datum.s=='a2'"}],"mark":{"type":"text","font":"Lato","fontWeight":"bold","fontSize":15.9,"color":"#44546a","align":"left","baseline":"middle","dx":-99},"encoding":{"text":{"field":"t"}}}
]}
